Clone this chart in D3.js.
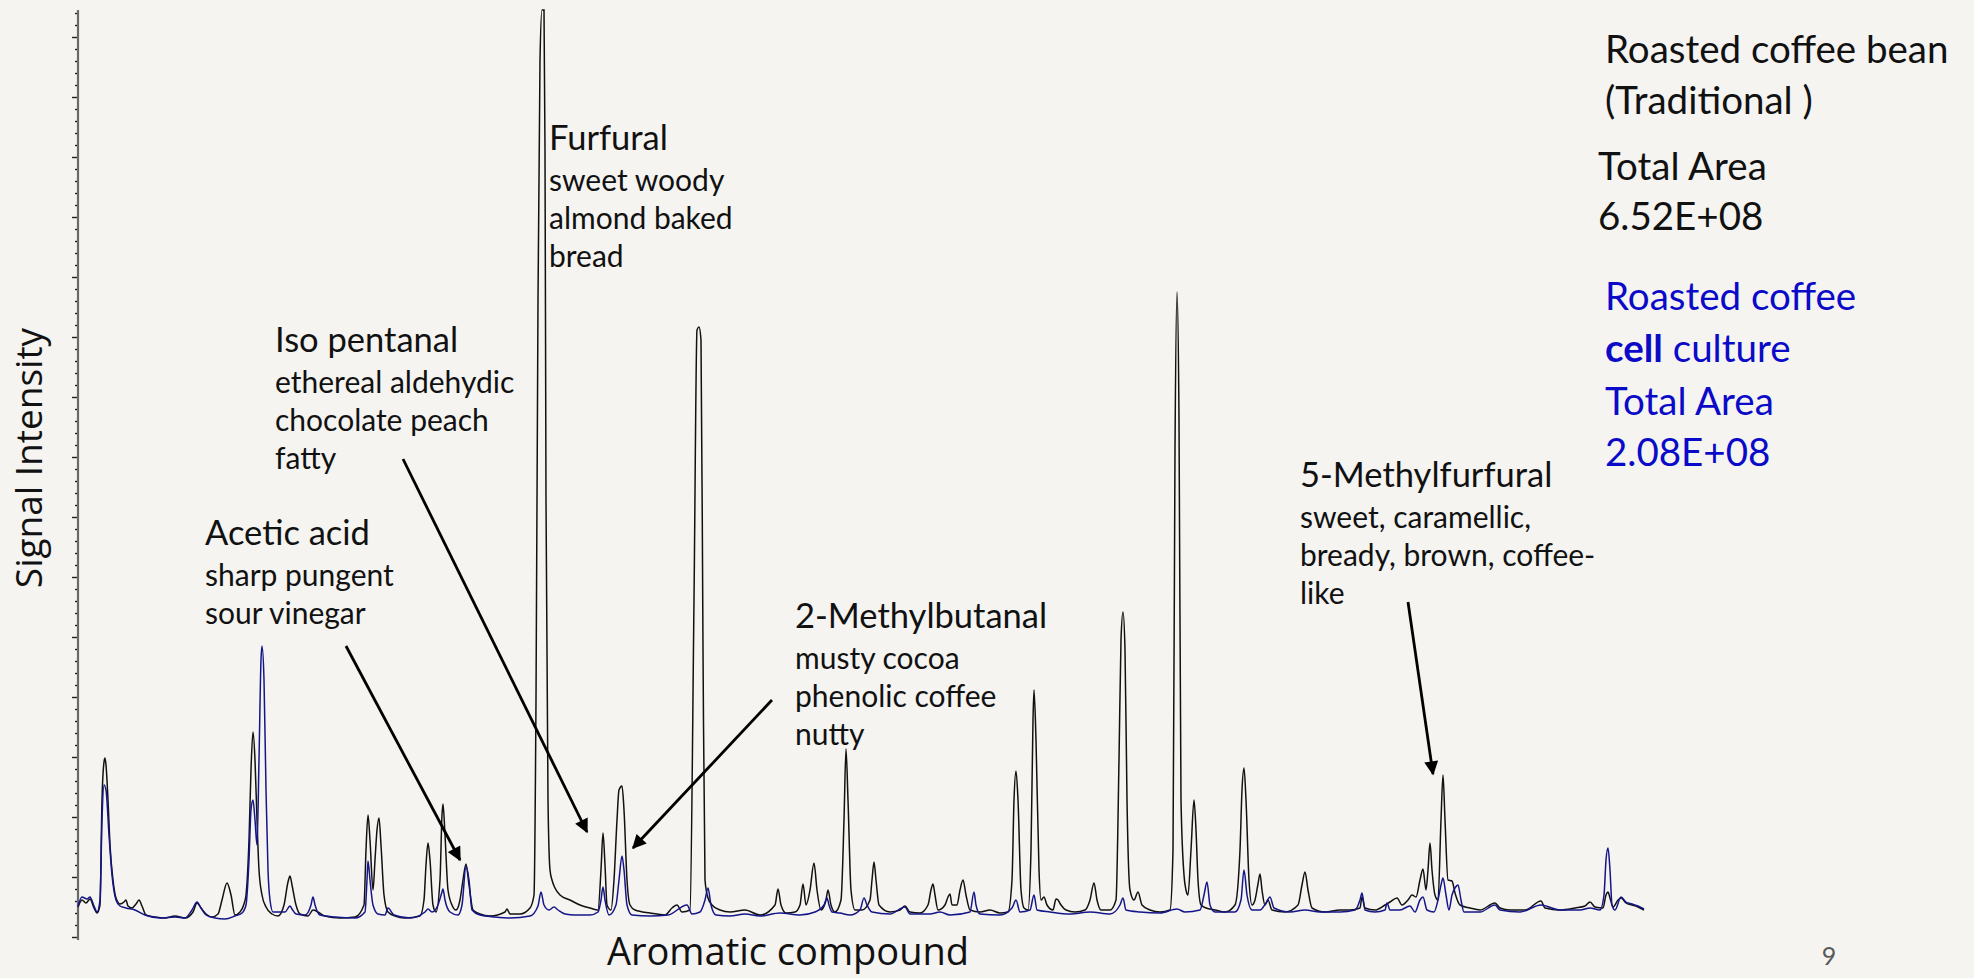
<!DOCTYPE html>
<html>
<head>
<meta charset="utf-8">
<script src="https://cdn.jsdelivr.net/npm/d3@7"></script>
<style>
  html, body { margin: 0; padding: 0; background: #f5f4f1; }
  svg { display: block; }
</style>
</head>
<body>
<svg id="chart" width="1974" height="978"></svg>
<script>
// Chromatogram traces: [retention time (s), signal intensity]
const traditionalTrace = [
  [0, 15], [4, 18.5], [8, 17], [12, 19], [16, 14.5], [19, 12], [22, 16], [24, 68.5], [26, 87.5], [27, 89.5],
  [28, 86], [30, 68.5], [32, 46], [35, 28.5], [38, 19.5], [42, 16.5], [46, 17.5], [48, 18.5], [50, 15.5], [54, 14.5],
  [58, 16.5], [61, 18.5], [64, 15.5], [68, 11], [77, 10], [87, 9.5], [97, 10.5], [107, 9.5], [115, 12.5], [119, 17],
  [123, 14.5], [128, 11.5], [134, 10], [140, 11.5], [144, 18.5], [149, 27], [153, 21], [157, 11], [162, 12.5], [166, 16.5],
  [168, 21], [171, 48.5], [173, 83.5], [175, 102.5], [177, 88.5], [179, 58.5], [181, 33.5], [184, 21], [188, 15], [194, 11.5],
  [200, 10.5], [206, 16], [210, 27.5], [212, 30.5], [214, 26], [218, 16], [222, 11.5], [230, 10.5], [235, 13.5], [240, 12.5],
  [247, 10.5], [262, 9.5], [277, 10], [286, 16], [288, 43.5], [290, 61], [292, 48.5], [295, 23.5], [297, 38.5], [299, 53.5],
  [301, 59.5], [303, 46], [306, 21], [310, 12.5], [317, 10.5], [327, 9.5], [342, 10.5], [346, 18.5], [348, 36], [350, 47],
  [352, 38.5], [355, 16], [358, 12.5], [362, 28.5], [364, 61], [365, 66.5], [367, 51], [370, 23.5], [374, 16], [378, 13.5],
  [382, 18.5], [385, 28.5], [388, 36.5], [391, 26], [395, 13.5], [402, 11.5], [412, 10.5], [427, 12.5], [429, 14], [432, 11.5],
  [442, 11.5], [452, 14.5], [456, 21], [458, 118.5], [460, 318.5], [462, 438.5], [464, 463.5], [466, 463.5], [467, 393.5], [468, 218.5],
  [470, 68.5], [472, 33.5], [474, 28.5], [477, 24.5], [482, 21], [492, 18.5], [502, 16], [512, 14.5], [520, 13.5], [523, 33.5],
  [525, 52], [527, 36], [529, 16], [533, 13.5], [536, 28.5], [539, 58.5], [541, 73.5], [544, 75.5], [546, 63.5], [549, 28.5],
  [552, 16], [557, 13.5], [572, 12], [587, 11], [594, 14.5], [599, 16], [604, 12.5], [612, 13.5], [616, 168.5], [619, 303.5],
  [621, 305], [623, 298.5], [625, 143.5], [627, 28.5], [630, 19.5], [634, 16], [642, 13.5], [652, 12.5], [667, 13.5], [682, 11],
  [697, 16], [700, 24], [703, 16], [708, 12], [717, 12.5], [722, 16], [725, 26.5], [728, 16], [732, 23.5], [736, 37],
  [739, 23.5], [743, 13.5], [748, 18.5], [750, 23.5], [753, 16], [757, 12.5], [763, 18.5], [766, 58.5], [768, 94], [770, 68.5],
  [773, 23.5], [777, 13.5], [784, 13.5], [792, 18.5], [794, 28.5], [796, 37.5], [798, 28.5], [801, 16], [812, 12.5], [822, 13.5],
  [827, 15.5], [832, 12.5], [842, 12], [850, 16], [853, 23.5], [855, 26.5], [857, 21], [860, 13.5], [867, 16], [870, 20],
  [872, 21.5], [874, 16], [879, 16], [882, 23.5], [885, 28.5], [888, 21], [892, 13.5], [902, 12.5], [912, 13.5], [922, 12],
  [930, 12.5], [934, 28.5], [936, 68.5], [938, 83], [940, 68.5], [943, 23.5], [946, 14.5], [950, 13.5], [953, 43.5], [955, 108.5],
  [956, 123.5], [958, 98.5], [961, 33.5], [963, 18.5], [966, 20], [969, 16], [975, 13.5], [978, 19], [980, 18.5], [983, 16],
  [988, 13.5], [997, 12.5], [1007, 13.5], [1012, 18.5], [1016, 27], [1019, 18.5], [1023, 13.5], [1032, 13.5], [1038, 18.5], [1041, 88.5],
  [1043, 148.5], [1045, 162.5], [1047, 143.5], [1049, 68.5], [1052, 23.5], [1056, 18.5], [1060, 22.5], [1064, 16], [1072, 13.5], [1082, 12.5],
  [1092, 13.5], [1095, 43.5], [1097, 243.5], [1099, 322.5], [1101, 258.5], [1103, 68.5], [1106, 31], [1108, 23.5], [1110, 21], [1113, 43.5],
  [1116, 68.5], [1118, 53.5], [1120, 28.5], [1123, 16], [1128, 14.5], [1137, 13.5], [1147, 12.5], [1157, 16], [1162, 43.5], [1164, 73.5],
  [1166, 84.5], [1168, 68.5], [1171, 28.5], [1174, 16], [1177, 18.5], [1180, 26.5], [1182, 31.5], [1184, 23.5], [1187, 16], [1190, 18.5],
  [1194, 13.5], [1207, 12.5], [1220, 16], [1224, 26], [1227, 32.5], [1230, 23.5], [1234, 14.5], [1247, 12.5], [1262, 13.5], [1272, 13.5],
  [1282, 14.5], [1284, 20], [1287, 14.5], [1297, 13.5], [1307, 16], [1312, 17.5], [1319, 19.5], [1324, 16], [1330, 18.5], [1334, 21],
  [1338, 20], [1342, 28.5], [1345, 34], [1348, 23.5], [1350, 33.5], [1352, 47], [1354, 33.5], [1357, 21], [1360, 18.5], [1363, 58.5],
  [1365, 81], [1367, 58.5], [1370, 28.5], [1374, 28], [1377, 22], [1382, 16], [1392, 14.5], [1402, 13.5], [1417, 17], [1422, 14.5],
  [1432, 13.5], [1447, 13.5], [1463, 18], [1467, 14.5], [1482, 13.5], [1497, 14.5], [1507, 15.5], [1512, 17.5], [1517, 15], [1525, 14.5],
  [1528, 21], [1530, 22.5], [1532, 19.5], [1535, 15], [1540, 18.5], [1543, 19.5], [1548, 17], [1554, 16], [1560, 15], [1566, 13.5]
];

const cellCultureTrace = [
  [0, 15.5], [4, 20], [9, 19], [12, 20], [16, 15.5], [19, 12.5], [22, 18.5], [24, 58.5], [26, 76], [28, 73.5],
  [31, 51], [34, 31], [38, 18.5], [42, 15.5], [48, 14.5], [57, 13.5], [67, 11], [82, 9.5], [97, 10], [107, 9.5],
  [114, 13.5], [119, 17.5], [123, 14.5], [128, 11], [137, 9.5], [147, 9], [157, 10.5], [164, 12], [168, 16], [171, 38.5],
  [173, 63.5], [175, 68.5], [177, 58.5], [179, 46], [181, 88.5], [183, 138.5], [184, 145.5], [186, 128.5], [188, 73.5], [190, 33.5],
  [192, 18.5], [195, 12.5], [202, 12.5], [207, 12.5], [212, 15.5], [214, 14], [218, 11.5], [227, 11], [233, 16], [235, 20],
  [237, 16], [242, 11], [257, 10], [277, 9.5], [287, 12.5], [289, 28.5], [290, 38], [292, 28.5], [295, 16], [300, 11.5],
  [307, 11], [310, 14.5], [316, 11], [332, 9.5], [347, 12.5], [350, 14], [354, 12.5], [360, 16], [364, 22.5], [365, 24],
  [367, 18.5], [372, 12.5], [380, 11], [384, 16], [388, 35.5], [391, 28.5], [394, 13.5], [402, 11], [417, 10], [432, 9.5],
  [452, 10.5], [460, 15.5], [463, 22.5], [466, 16], [471, 13.5], [476, 15], [480, 13.5], [487, 11.5], [497, 11], [512, 11],
  [520, 12.5], [523, 18.5], [525, 25], [527, 18.5], [531, 11], [538, 16], [541, 28.5], [544, 40.5], [546, 33.5], [549, 16],
  [554, 11], [572, 10.5], [590, 11], [609, 16], [614, 11.5], [622, 12.5], [627, 18.5], [630, 24.5], [633, 16], [638, 11],
  [652, 10.5], [667, 11.5], [682, 10.5], [702, 12], [722, 11], [737, 12.5], [746, 16], [749, 19.5], [751, 16], [754, 12.5],
  [762, 12], [772, 11], [782, 13.5], [786, 19.5], [789, 16], [794, 12.5], [812, 11.5], [827, 15], [832, 11.5], [852, 11.5],
  [862, 12.5], [872, 11], [892, 12.5], [896, 22.5], [898, 16], [902, 11.5], [922, 11], [934, 14.5], [938, 18.5], [942, 12.5],
  [952, 13.5], [956, 21], [959, 13.5], [972, 12.5], [992, 11.5], [1012, 12.5], [1032, 11.5], [1042, 16], [1045, 19.5], [1048, 13.5],
  [1062, 12.5], [1082, 12], [1099, 14], [1107, 12.5], [1122, 13.5], [1126, 21], [1129, 27.5], [1132, 16], [1137, 12.5], [1157, 12.5],
  [1163, 18.5], [1166, 33.5], [1169, 21], [1174, 13.5], [1182, 13.5], [1188, 17], [1192, 20], [1196, 14.5], [1212, 12.5], [1227, 13.5],
  [1242, 12.5], [1262, 12.5], [1277, 13.5], [1282, 18.5], [1284, 22], [1287, 13.5], [1297, 12.5], [1307, 13.5], [1309, 17], [1312, 13.5],
  [1322, 13.5], [1332, 15.5], [1337, 12.5], [1342, 18.5], [1345, 20], [1349, 13.5], [1356, 12.5], [1360, 18.5], [1363, 26], [1365, 29.5],
  [1368, 21], [1371, 13.5], [1374, 21], [1377, 24.5], [1380, 26], [1383, 18.5], [1386, 12.5], [1402, 12.5], [1417, 16], [1422, 13.5],
  [1442, 12.5], [1463, 16], [1482, 13.5], [1502, 13.5], [1512, 14.5], [1522, 13.5], [1526, 21], [1528, 38.5], [1530, 44.5], [1532, 33.5],
  [1534, 16], [1537, 13.5], [1543, 20], [1548, 17.5], [1554, 16.5], [1560, 15.5], [1566, 14]
];

// Compound annotations
const compoundNames = ["Acetic acid", "Iso pentanal", "Furfural", "2-Methylbutanal", "5-Methylfurfural"];
const compoundNotes = [
  ["sharp pungent", "sour vinegar"],
  ["ethereal aldehydic", "chocolate peach", "fatty"],
  ["sweet woody", "almond baked", "bread"],
  ["musty cocoa", "phenolic coffee", "nutty"],
  ["sweet, caramellic,", "bready, brown, coffee-", "like"]
];
// arrow tips in data units [time, intensity]; null = no arrow
const arrowTargets = [[382, 38.5], [509, 52.5], null, [555, 44.5], [1355, 81.5]];

// Legend text
const traditionalLabel = ["Roasted coffee bean", "(Traditional )"];
const totalAreas = ["6.52E+08", "2.08E+08"];

// Layout
const labelPos = [[205, 545], [275, 352], [549, 150], [795, 628], [1300, 487]];
const arrowStart = [[346, 646], [403, 459], null, [772, 700], [1408, 602]];
const blackColor = "#111111";
const blueTrace = "#15158a";
const blueText = "#0a0ac8";

const svg = d3.select("#chart");

const x = d3.scaleLinear().domain([0, 1566]).range([78, 1644]);
const y = d3.scaleLinear().domain([0, 463.5]).range([937, 10]);

// Y axis: minor ticks every 6, major every 30, no labels
const yAxis = svg.append("g")
  .attr("transform", `translate(${x(0)},0)`)
  .call(d3.axisLeft(y)
    .tickValues(d3.range(0, 463, 6))
    .tickFormat("")
    .tickSize(3)
    .tickSizeOuter(0));
yAxis.select(".domain").remove();
yAxis.selectAll(".tick line")
  .attr("stroke", "#222")
  .attr("stroke-width", 1.4)
  .attr("x2", d => d % 30 === 0 ? -6 : -3);
yAxis.append("line")
  .attr("y1", y.range()[1])
  .attr("y2", y.range()[0] + 3)
  .attr("stroke", "#6a6a6a")
  .attr("stroke-width", 2.2);

// Traces
const line = d3.line()
  .x(d => x(d[0]))
  .y(d => y(d[1]))
  .curve(d3.curveMonotoneX);

svg.append("path")
  .datum(traditionalTrace)
  .attr("fill", "none")
  .attr("stroke", blackColor)
  .attr("stroke-width", 1.5)
  .attr("d", line);

svg.append("path")
  .datum(cellCultureTrace)
  .attr("fill", "none")
  .attr("stroke", blueTrace)
  .attr("stroke-width", 1.5)
  .attr("d", line);

// Axis titles
svg.append("text")
  .attr("transform", "translate(42,458) rotate(-90)")
  .attr("text-anchor", "middle")
  .attr("font-family", "Open Sans")
  .attr("font-size", 37)
  .attr("fill", "#111")
  .text("Signal Intensity");

svg.append("text")
  .attr("x", 788)
  .attr("y", 965)
  .attr("text-anchor", "middle")
  .attr("font-family", "Open Sans")
  .attr("font-size", 38)
  .attr("fill", "#111")
  .text("Aromatic compound");

// Arrows
svg.append("defs").append("marker")
  .attr("id", "arrowhead")
  .attr("viewBox", "0 0 10 10")
  .attr("refX", 9)
  .attr("refY", 5)
  .attr("markerWidth", 17)
  .attr("markerHeight", 14)
  .attr("markerUnits", "userSpaceOnUse")
  .attr("orient", "auto")
  .append("path")
  .attr("d", "M0,0 L10,5 L0,10 z")
  .attr("fill", "#000");

arrowTargets.forEach((t, i) => {
  if (!t) return;
  svg.append("line")
    .attr("x1", arrowStart[i][0])
    .attr("y1", arrowStart[i][1])
    .attr("x2", x(t[0]))
    .attr("y2", y(t[1]))
    .attr("stroke", "#000")
    .attr("stroke-width", 2.8)
    .attr("marker-end", "url(#arrowhead)");
});

// Compound labels
compoundNames.forEach((name, i) => {
  const g = svg.append("text")
    .attr("font-family", "Lato")
    .attr("fill", "#111");
  g.append("tspan")
    .attr("x", labelPos[i][0])
    .attr("y", labelPos[i][1])
    .attr("font-size", 34.5)
    .text(name);
  compoundNotes[i].forEach((note, j) => {
    g.append("tspan")
      .attr("x", labelPos[i][0])
      .attr("y", labelPos[i][1] + 41 + j * 38)
      .attr("font-size", 30)
      .text(note);
  });
});

// Legend, top right
const legend = svg.append("g").attr("font-family", "Lato").attr("font-size", 38.5);
traditionalLabel.forEach((t, i) => {
  legend.append("text")
    .attr("x", 1605).attr("y", 63 + i * 51)
    .attr("fill", "#111")
    .text(t);
});
legend.append("text").attr("x", 1598).attr("y", 180).attr("fill", "#111").text("Total Area");
legend.append("text").attr("x", 1598).attr("y", 230).attr("fill", "#111").text(totalAreas[0]);

const cellLabel = legend.append("text").attr("fill", blueText);
cellLabel.append("tspan").attr("x", 1605).attr("y", 310).text("Roasted coffee");
cellLabel.append("tspan").attr("x", 1605).attr("y", 362).attr("font-weight", "bold").text("cell");
cellLabel.append("tspan").text(" culture");
cellLabel.append("tspan").attr("x", 1605).attr("y", 415).text("Total Area");
cellLabel.append("tspan").attr("x", 1605).attr("y", 466).text(totalAreas[1]);

// Slide number
svg.append("text")
  .attr("x", 1829)
  .attr("y", 965)
  .attr("text-anchor", "middle")
  .attr("font-family", "Lato")
  .attr("font-size", 25)
  .attr("fill", "#595959")
  .text("9");
</script>
</body>
</html>
